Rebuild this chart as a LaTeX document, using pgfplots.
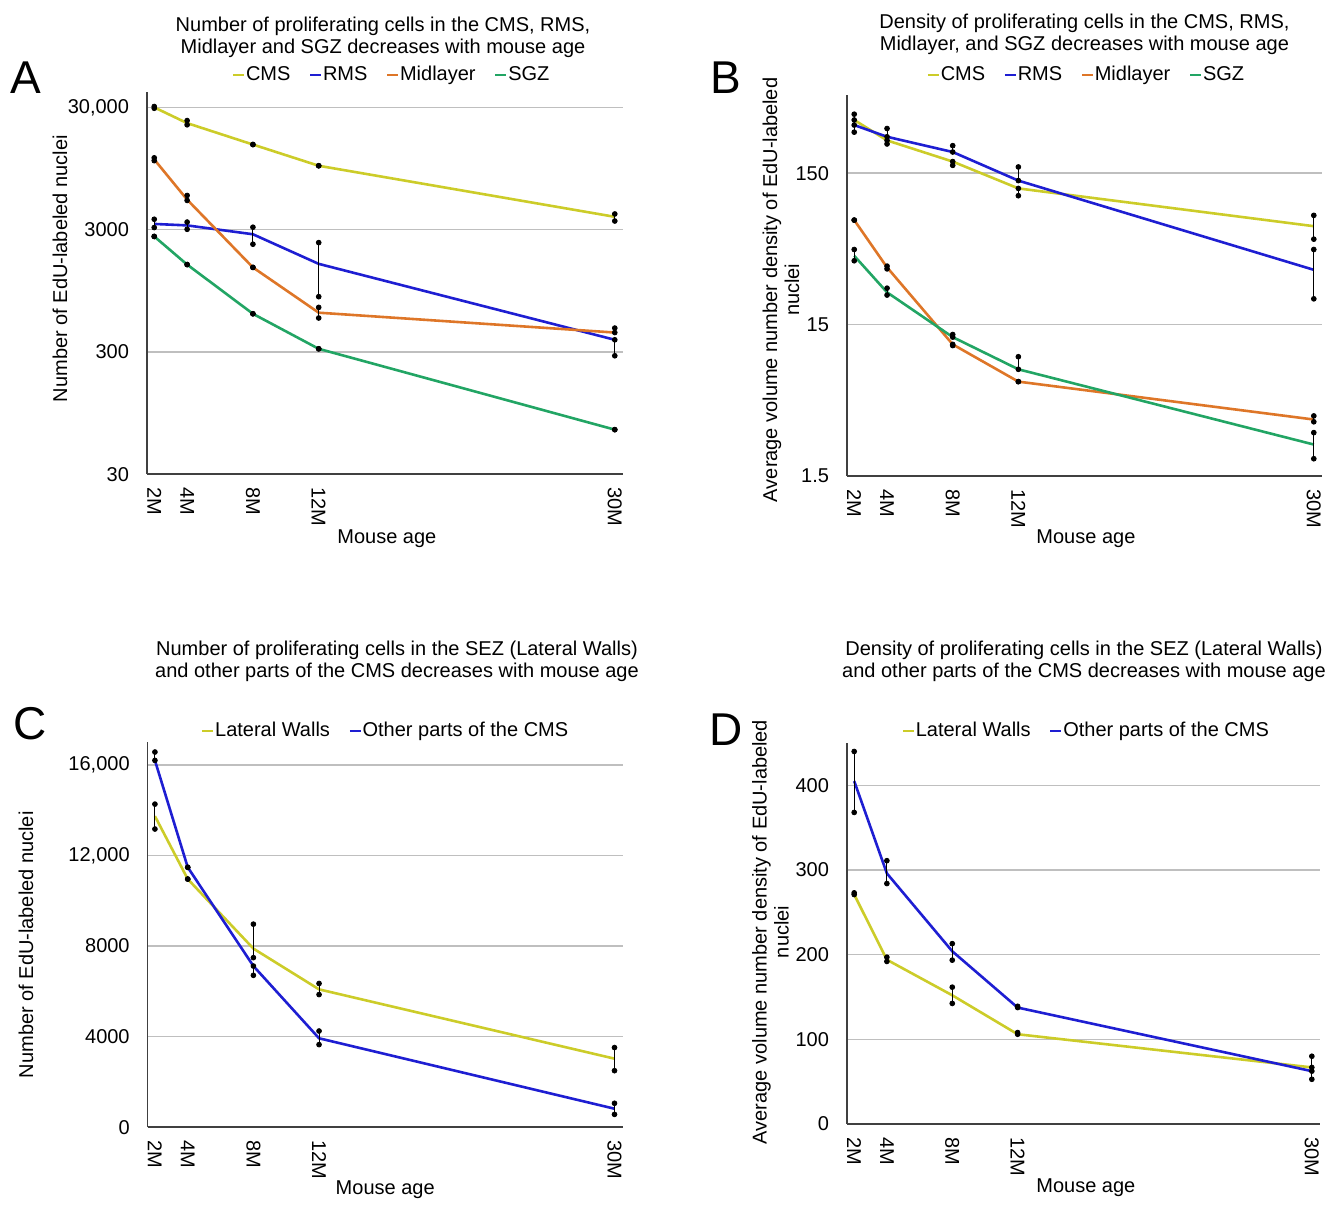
\documentclass[border=0pt]{standalone}
\usepackage{fontspec}
\setmainfont{Liberation Sans}
\usepackage{pgfplots}
\pgfplotsset{compat=1.18}

\definecolor{cms}{RGB}{204,204,41}
\definecolor{rms}{RGB}{30,30,210}
\definecolor{mid}{RGB}{222,118,40}
\definecolor{sgz}{RGB}{34,165,100}

\newcommand{\tf}{\fontsize{10}{11}\selectfont}

\pgfplotsset{
  panel/.style={
    scale only axis,
    axis lines=left,
    axis line style={-, black!75, line width=0.8pt},
    xmin=1.56, xmax=30.5,
    xtick={2,4,8,12,30},
    xticklabels={2M,4M,8M,12M,30M},
    xticklabel style={rotate=-90, anchor=west, xshift=3pt},
    yticklabel style={xshift=-5.5pt},
    scaled y ticks=false,
    /pgf/number format/assume math mode=true,
    major tick length=0pt,
    minor tick length=0pt,
    yminorticks=false,
    ymajorgrids,
    grid style={black!25, line width=0.7pt},
    tick label style={font=\tf},
    label style={font=\tf},
    xlabel={Mouse age},
    legend columns=-1,
    legend style={draw=none, fill=none, font=\tf, anchor=center,
      nodes={inner sep=0.4pt},
      /tikz/every even column/.append style={column sep=9pt}},
    legend image code/.code={\draw[#1, line width=1pt] (0pt,0pt) -- (5.5pt,0pt);},
  },
  eb/.style={line width=1.3pt,
    error bars/.cd, y dir=both, y explicit,
    error bar style={black, line width=0.5pt},
    error mark=*,
    error mark options={black, fill=black, mark size=1.2pt}},
}

\begin{document}
\begin{tikzpicture}
\useasboundingbox (0,0) rectangle (669.5pt,606.5pt);

% ---------- A ----------
\begin{axis}[panel,
  at={(73.5pt,369.4pt)}, anchor=south west,
  width=238pt, height=191.3pt,
  ymode=log, ymin=30, ymax=40400,
  ytick={30,300,3000,30000},
  yticklabels={30,300,3000,{30,000}},
  ylabel={Number of EdU-labeled nuclei},
  ylabel style={at={(axis description cs:-0.183,0.537)}, anchor=center, rotate=0},
  xlabel style={at={(axis description cs:0.504,-0.169)}, anchor=center},
  legend style={at={(axis description cs:0.513,1.044)}},
]
\addplot[cms, eb] table[x=x, y=y, y error plus expr=\thisrow{hi}-\thisrow{y}, y error minus expr=\thisrow{y}-\thisrow{lo}] {
x y lo hi
2 30000 29500 30500
4 22300 21600 23400
8 14900 14900 14900
12 9990 9990 9990
30 3820 3530 4030
};
\addplot[rms, eb] table[x=x, y=y, y error plus expr=\thisrow{hi}-\thisrow{y}, y error minus expr=\thisrow{y}-\thisrow{lo}] {
x y lo hi
2 3340 3120 3650
4 3250 3020 3460
8 2750 2280 3140
12 1575 849 2350
30 377 279 377
};
\addplot[mid, eb] table[x=x, y=y, y error plus expr=\thisrow{hi}-\thisrow{y}, y error minus expr=\thisrow{y}-\thisrow{lo}] {
x y lo hi
2 11250 11000 11600
4 5280 5200 5710
8 1473 1473 1473
12 628 568 694
30 432 432 470
};
\addplot[sgz, eb] table[x=x, y=y, y error plus expr=\thisrow{hi}-\thisrow{y}, y error minus expr=\thisrow{y}-\thisrow{lo}] {
x y lo hi
2 2640 2640 2640
4 1554 1554 1554
8 615 615 615
12 318 318 318
30 69.4 69.4 69.4
};
\legend{CMS,RMS,Midlayer,SGZ}
\end{axis}

% ---------- B ----------
\begin{axis}[panel,
  at={(423.5pt,368.5pt)}, anchor=south west,
  width=237.5pt, height=190.7pt,
  ymode=log, ymin=1.5, ymax=496,
  ytick={1.5,15,150},
  yticklabels={1.5,15,150},
  ylabel={Average volume number density of EdU-labeled\\nuclei},
  ylabel style={at={(axis description cs:-0.139,0.488)}, anchor=center, align=center},
  xlabel style={at={(axis description cs:0.503,-0.165)}, anchor=center},
  legend style={at={(axis description cs:0.503,1.051)}},
]
\addplot[cms, eb] table[x=x, y=y, y error plus expr=\thisrow{hi}-\thisrow{y}, y error minus expr=\thisrow{y}-\thisrow{lo}] {
x y lo hi
2 337 337 368
4 247 234 247
8 179 169 179
12 119 106.5 119
30 67 55 79
};
\addplot[rms, eb] table[x=x, y=y, y error plus expr=\thisrow{hi}-\thisrow{y}, y error minus expr=\thisrow{y}-\thisrow{lo}] {
x y lo hi
2 312 280 312
4 261 261 296
8 207 207 228
12 134 134 165
30 34.5 22.2 47
};
\addplot[mid, eb] table[x=x, y=y, y error plus expr=\thisrow{hi}-\thisrow{y}, y error minus expr=\thisrow{y}-\thisrow{lo}] {
x y lo hi
2 73.5 73.5 73.5
4 35.8 35 36.5
8 11.1 10.9 11.1
12 6.3 6.3 6.3
30 3.54 3.42 3.74
};
\addplot[sgz, eb] table[x=x, y=y, y error plus expr=\thisrow{hi}-\thisrow{y}, y error minus expr=\thisrow{y}-\thisrow{lo}] {
x y lo hi
2 42.7 39.6 47
4 24.5 23.5 26.1
8 12.4 12.4 12.9
12 7.6 7.6 9.2
30 2.42 1.95 2.9
};
\legend{CMS,RMS,Midlayer,SGZ}
\end{axis}

% ---------- C ----------
\begin{axis}[panel,
  at={(73.85pt,42.85pt)}, anchor=south west,
  width=237.5pt, height=192.5pt,
  ymin=0, ymax=17000,
  ytick={0,4000,8000,12000,16000},
  yticklabels={0,4000,8000,{12,000},{16,000}},
  ylabel={Number of EdU-labeled nuclei},
  ylabel style={at={(axis description cs:-0.256,0.474)}, anchor=center},
  xlabel style={at={(axis description cs:0.5,-0.162)}, anchor=center},
  legend style={at={(axis description cs:0.5,1.03)}},
]
\addplot[cms, eb] table[x=x, y=y, y error plus expr=\thisrow{hi}-\thisrow{y}, y error minus expr=\thisrow{y}-\thisrow{lo}] {
x y lo hi
2 13740 13170 14270
4 10960 10960 10960
8 7890 7490 8970
12 6090 5860 6350
30 3030 2500 3520
};
\addplot[rms, eb] table[x=x, y=y, y error plus expr=\thisrow{hi}-\thisrow{y}, y error minus expr=\thisrow{y}-\thisrow{lo}] {
x y lo hi
2 16200 16200 16570
4 11480 11480 11480
8 7120 6710 7120
12 3930 3650 4250
30 820 570 1060
};
\legend{Lateral Walls,Other parts of the CMS}
\end{axis}

% ---------- D ----------
\begin{axis}[panel,
  at={(423.5pt,44.5pt)}, anchor=south west,
  width=236.5pt, height=190.5pt,
  ymin=0, ymax=450,
  ytick={0,100,200,300,400},
  yticklabels={0,100,200,300,400},
  ylabel={Average volume number density of EdU-labeled\\nuclei},
  ylabel style={at={(axis description cs:-0.162,0.504)}, anchor=center, align=center},
  xlabel style={at={(axis description cs:0.505,-0.167)}, anchor=center},
  legend style={at={(axis description cs:0.505,1.032)}},
]
\addplot[cms, eb] table[x=x, y=y, y error plus expr=\thisrow{hi}-\thisrow{y}, y error minus expr=\thisrow{y}-\thisrow{lo}] {
x y lo hi
2 271 271 273
4 194 192 197
8 152 142.4 161.6
12 106 106 108
30 66.8 66.8 80
};
\addplot[rms, eb] table[x=x, y=y, y error plus expr=\thisrow{hi}-\thisrow{y}, y error minus expr=\thisrow{y}-\thisrow{lo}] {
x y lo hi
2 405 368 440
4 296 284 311
8 204 193.5 213
12 137.5 137.5 139
30 62.4 52.8 62.4
};
\legend{Lateral Walls,Other parts of the CMS}
\end{axis}

% titles and panel letters
\node[font=\tf, align=center] at (191.5pt,587.6pt)
  {Number of proliferating cells in the CMS, RMS,\\Midlayer and SGZ decreases with mouse age};
\node[font=\tf, align=center] at (542.2pt,589.2pt)
  {Density of proliferating cells in the CMS, RMS,\\Midlayer, and SGZ decreases with mouse age};
\node[font=\tf, align=center] at (198.5pt,275.6pt)
  {Number of proliferating cells in the SEZ (Lateral Walls)\\and other parts of the CMS decreases with mouse age};
\node[font=\tf, align=center] at (542pt,275.6pt)
  {Density of proliferating cells in the SEZ (Lateral Walls)\\and other parts of the CMS decreases with mouse age};
\node[font=\fontsize{23}{25}\selectfont] at (13pt,567.5pt) {A};
\node[font=\fontsize{23}{25}\selectfont] at (363pt,567.5pt) {B};
\node[font=\fontsize{23}{25}\selectfont] at (15pt,244.5pt) {C};
\node[font=\fontsize{23}{25}\selectfont] at (363pt,241.5pt) {D};
\end{tikzpicture}
\end{document}
